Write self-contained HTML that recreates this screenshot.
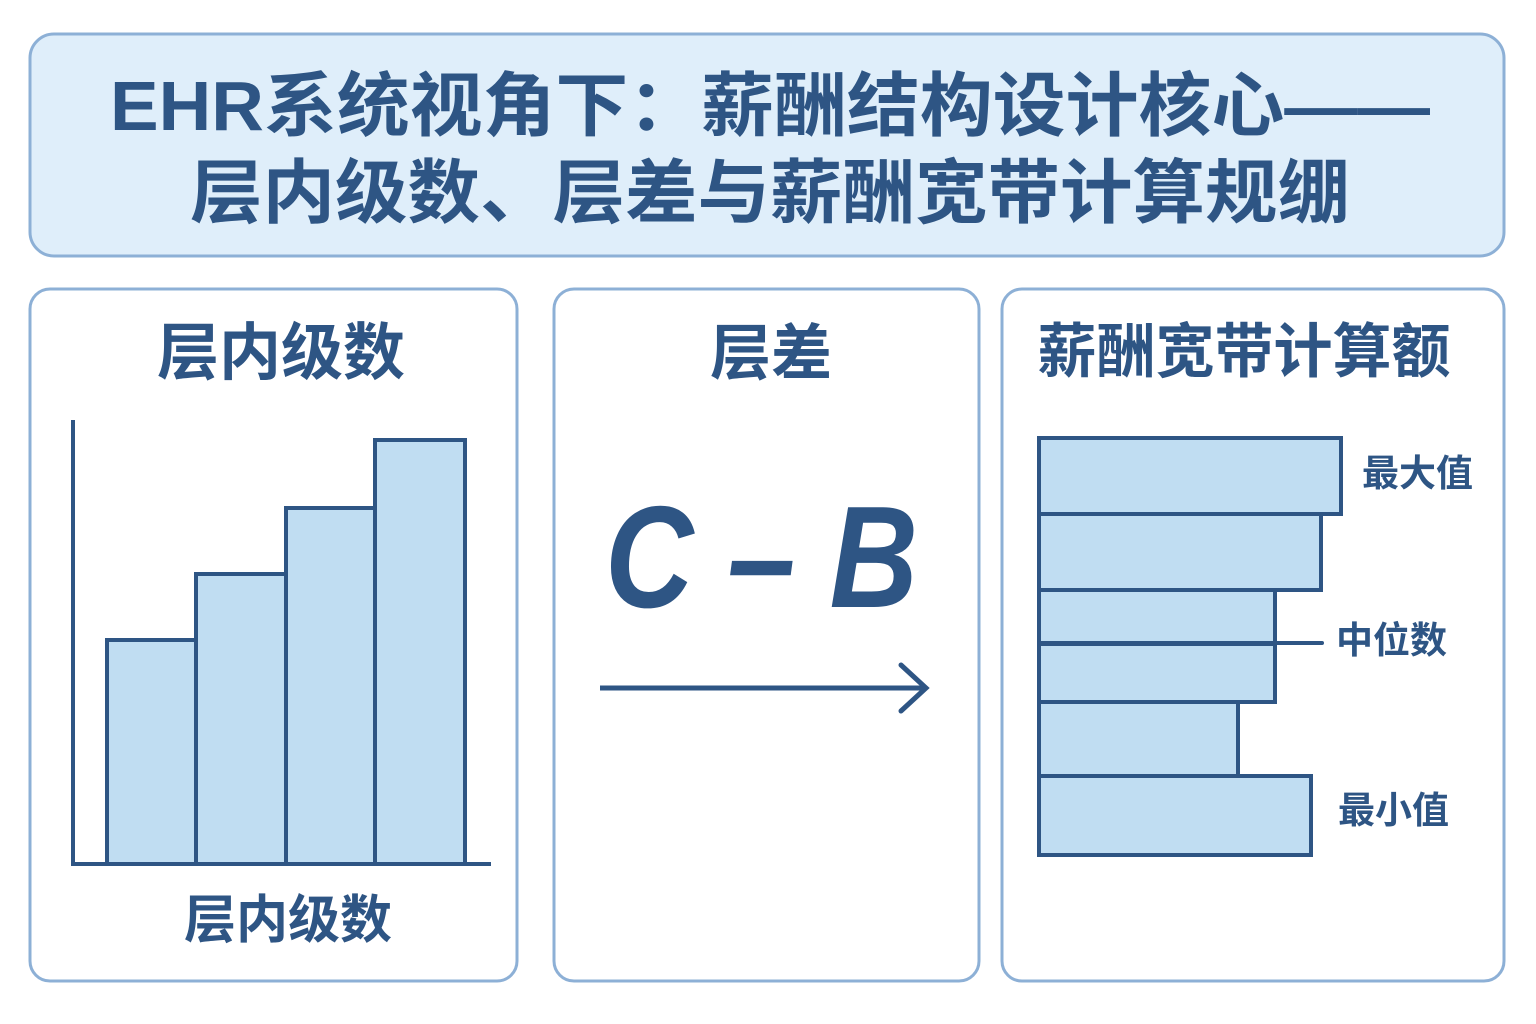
<!DOCTYPE html>
<html><head><meta charset="utf-8"><style>
body{margin:0;background:#fff}
svg{display:block}
text{font-family:"Liberation Sans","Noto Sans CJK SC",sans-serif;fill:#2e5584}
</style></head><body>
<svg width="1536" height="1024" viewBox="0 0 1536 1024">
<rect x="30" y="34" width="1474" height="222" rx="24" fill="#dfeefa" stroke="#8db0d6" stroke-width="3"/>
<text x="110" y="130" font-size="70" font-weight="bold" textLength="1320" lengthAdjust="spacingAndGlyphs">EHR系统视角下：薪酬结构设计核心——</text>
<text x="190" y="217" font-size="70" font-weight="bold" textLength="1160" lengthAdjust="spacingAndGlyphs">层内级数、层差与薪酬宽带计算规绷</text>

<rect x="30" y="289" width="487" height="692" rx="20" fill="#fff" stroke="#8db0d6" stroke-width="3"/>
<rect x="554" y="289" width="425" height="692" rx="20" fill="#fff" stroke="#8db0d6" stroke-width="3"/>
<rect x="1002" y="289" width="502" height="692" rx="20" fill="#fff" stroke="#8db0d6" stroke-width="3"/>

<text x="281" y="374" font-size="62" font-weight="bold" text-anchor="middle">层内级数</text>
<text x="771" y="374" font-size="61" font-weight="bold" text-anchor="middle">层差</text>
<text x="1244" y="372" font-size="59" font-weight="bold" text-anchor="middle">薪酬宽带计算额</text>

<g stroke="#2e5584" stroke-width="4" fill="#c0ddf2">
<rect x="107" y="640" width="89" height="224"/>
<rect x="196" y="574" width="90" height="290"/>
<rect x="286" y="508" width="89" height="356"/>
<rect x="375" y="440" width="90" height="424"/>
</g>
<line x1="73" y1="420" x2="73" y2="866" stroke="#2e5584" stroke-width="4"/>
<line x1="71" y1="864" x2="491" y2="864" stroke="#2e5584" stroke-width="4"/>
<text x="288" y="938" font-size="52" font-weight="bold" text-anchor="middle">层内级数</text>

<text x="605" y="607" font-size="145" font-weight="bold" font-style="italic" textLength="313" lengthAdjust="spacingAndGlyphs">C – B</text>
<line x1="600" y1="688" x2="926" y2="688" stroke="#2e5584" stroke-width="5"/>
<polyline points="901,665 926,688 901,711" fill="none" stroke="#2e5584" stroke-width="5" stroke-linecap="round"/>

<g stroke="#2e5584" stroke-width="4" fill="#c0ddf2">
<rect x="1039" y="438" width="302" height="76"/>
<rect x="1039" y="514" width="282" height="76"/>
<rect x="1039" y="590" width="236" height="54"/>
<rect x="1039" y="644" width="236" height="58"/>
<rect x="1039" y="702" width="199" height="74"/>
<rect x="1039" y="776" width="272" height="79"/>
</g>
<line x1="1040" y1="643" x2="1322" y2="643" stroke="#2e5584" stroke-width="4" stroke-linecap="round"/>
<text x="1362" y="486" font-size="37" font-weight="bold">最大值</text>
<text x="1336" y="653" font-size="37" font-weight="bold">中位数</text>
<text x="1338" y="823" font-size="37" font-weight="bold">最小值</text>
</svg>
</body></html>
